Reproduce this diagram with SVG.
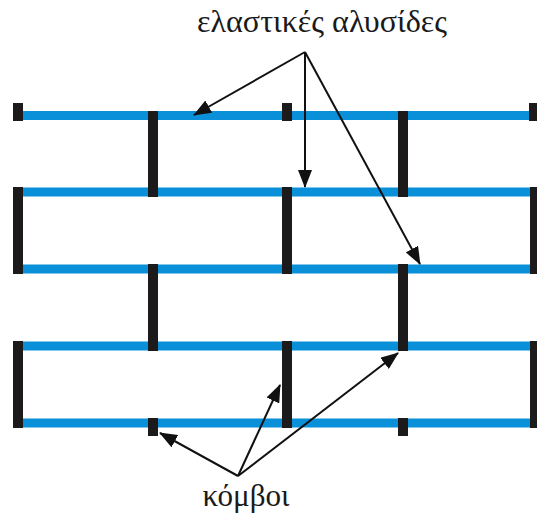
<svg xmlns="http://www.w3.org/2000/svg" width="537" height="513" viewBox="0 0 537 513">
<defs>
<style>
.chain{stroke:#0a8fd9;stroke-width:9;fill:none}
.knot{fill:#1c1a1a}
.arr{stroke:#111;stroke-width:2;fill:none;marker-end:url(#ah)}
.lbl{font-family:"Liberation Serif","DejaVu Serif",serif;font-size:31px;fill:#1a1a1a;text-anchor:middle}
</style>
<marker id="ah" markerUnits="userSpaceOnUse" markerWidth="18" markerHeight="14" refX="17" refY="7" orient="auto" viewBox="0 0 18 14">
<path d="M0,0 L18,7 L0,14 Z" fill="#111"/>
</marker>
</defs>
<rect width="537" height="513" fill="#fff"/>
<g id="chains">
<line class="chain" x1="18" y1="115.5" x2="537" y2="115.5"/>
<line class="chain" x1="18" y1="192" x2="537" y2="192"/>
<line class="chain" x1="18" y1="269" x2="537" y2="269"/>
<line class="chain" x1="18" y1="346" x2="537" y2="346"/>
<line class="chain" x1="18" y1="423" x2="537" y2="423"/>
</g>
<g id="knots">
<rect class="knot" x="13" y="103" width="10" height="18"/>
<rect class="knot" x="282" y="103" width="10" height="18"/>
<rect class="knot" x="529" y="103" width="10" height="18"/>
<rect class="knot" x="148" y="111" width="10" height="86"/>
<rect class="knot" x="398" y="111" width="10" height="86"/>
<rect class="knot" x="13" y="187" width="10" height="87"/>
<rect class="knot" x="282" y="187" width="10" height="87"/>
<rect class="knot" x="530" y="187" width="10" height="87"/>
<rect class="knot" x="148" y="264" width="10" height="87"/>
<rect class="knot" x="398" y="264" width="10" height="87"/>
<rect class="knot" x="13" y="341" width="10" height="87"/>
<rect class="knot" x="282" y="341" width="10" height="87"/>
<rect class="knot" x="530" y="341" width="10" height="87"/>
<rect class="knot" x="148" y="418" width="10" height="18"/>
<rect class="knot" x="398" y="418" width="10" height="18"/>
</g>
<g id="connectors">
<line class="arr" x1="305" y1="52" x2="194" y2="115"/>
<line class="arr" x1="305" y1="52" x2="305" y2="187"/>
<line class="arr" x1="305" y1="52" x2="420" y2="264"/>
<line class="arr" x1="238" y1="476" x2="160" y2="433"/>
<line class="arr" x1="238" y1="476" x2="280" y2="385"/>
<line class="arr" x1="238" y1="476" x2="398" y2="353"/>
</g>
<g id="label-top"><text class="lbl" x="322" y="32" textLength="250" lengthAdjust="spacingAndGlyphs">ελαστικές αλυσίδες</text></g>
<g id="label-bottom"><text class="lbl" x="246" y="506" textLength="87" lengthAdjust="spacingAndGlyphs">κόμβοι</text></g>
</svg>
